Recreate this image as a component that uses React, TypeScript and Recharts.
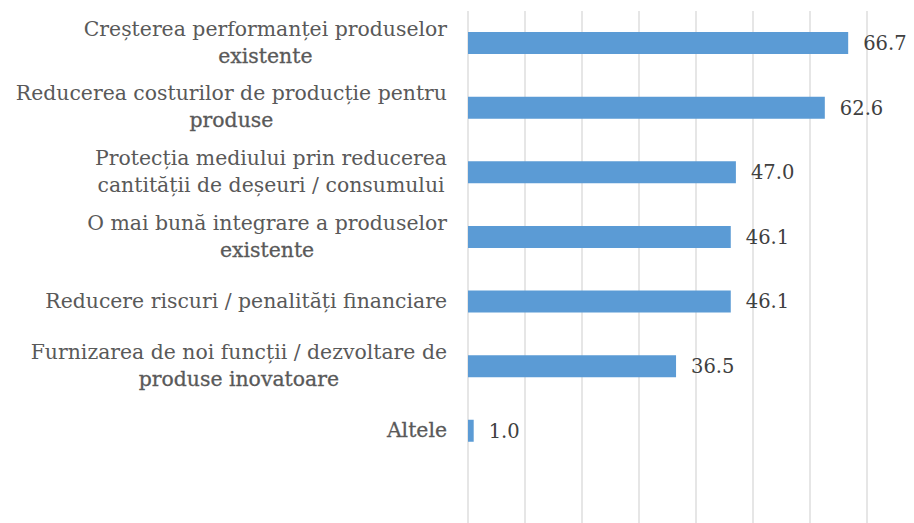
import React from "react";
import { BarChart, Bar, XAxis, YAxis, CartesianGrid, LabelList } from "recharts";

// Category label lines: [text, emphasised]
const categoryLines: [string, boolean][][] = [
  [["Creșterea performanței produselor", false], ["existente", true]],
  [["Reducerea costurilor de producție pentru", false], ["produse", true]],
  [["Protecția mediului prin reducerea", false], ["cantității de deșeuri / consumului", false]],
  [["O mai bună integrare a produselor", false], ["existente", true]],
  [["Reducere riscuri / penalități financiare", false]],
  [["Furnizarea de noi funcții / dezvoltare de", false], ["produse inovatoare", true]],
  [["Altele", true]],
  [],
];
const values: (number | null)[] = [66.7, 62.6, 47.0, 46.1, 46.1, 36.5, 1.0, null];
const xTicks = [0, 10, 20, 30, 40, 50, 60, 70];

const FONT = "DejaVu Serif";
const LABEL_SIZE = 20.4;

const data = categoryLines.map((lines, i) => ({
  name: `c${i}`,
  value: values[i],
}));

let ctx: CanvasRenderingContext2D | null = null;
function measure(text: string): number {
  if (!ctx) {
    const c = document.createElement("canvas");
    ctx = c.getContext("2d");
  }
  if (!ctx) return text.length * LABEL_SIZE * 0.55;
  ctx.font = `${LABEL_SIZE}px "${FONT}"`;
  return ctx.measureText(text).width;
}

const CategoryTick = (props: any) => {
  const { x, y, payload } = props;
  const idx = parseInt(String(payload.value).slice(1), 10);
  const lines = categoryLines[idx] || [];
  if (!lines.length) return null;
  const right = x;
  const maxW = Math.max(...lines.map(([t]) => measure(t)));
  const cx = right - maxW / 2;
  const lh = 27;
  const startY = y - 1 - ((lines.length - 1) * lh) / 2;
  return (
    <g>
      {lines.map(([t, b], i) => (
        <text
          key={i}
          x={cx}
          y={startY + i * lh}
          textAnchor="middle"
          dominantBaseline="central"
          fontFamily={FONT}
          fontSize={LABEL_SIZE}
          fill="#595959"
          stroke={b ? "#595959" : "none"}
          strokeWidth={b ? 0.3 : 0}
        >
          {t}
        </text>
      ))}
    </g>
  );
};

export default function App() {
  return (
    <div
      style={{
        position: "fixed",
        top: 0,
        left: 0,
        width: 914,
        height: 523,
        overflow: "hidden",
        background: "#fff",
      }}
    >
      <BarChart
        width={914}
        height={528}
        data={data}
        layout="vertical"
        margin={{ top: 11, right: 47, left: 0, bottom: 0 }}
        barCategoryGap={0}
      >
        <CartesianGrid horizontal={false} stroke="#D9D9D9" strokeWidth={1.3} />
        <XAxis type="number" domain={[0, 70]} ticks={xTicks} hide />
        <YAxis
          type="category"
          dataKey="name"
          width={468}
          axisLine={false}
          tickLine={false}
          tickSize={6}
          tickMargin={15}
          interval={0}
          tick={<CategoryTick />}
        />
        <Bar dataKey="value" fill="#5B9BD5" barSize={22} isAnimationActive={false}>
          <LabelList
            dataKey="value"
            position="right"
            offset={15}
            fill="#404040"
            fontFamily={FONT}
            fontSize={19.5}
            formatter={(v: any) => (v == null ? "" : Number(v).toFixed(1))}
          />
        </Bar>
      </BarChart>
    </div>
  );
}
